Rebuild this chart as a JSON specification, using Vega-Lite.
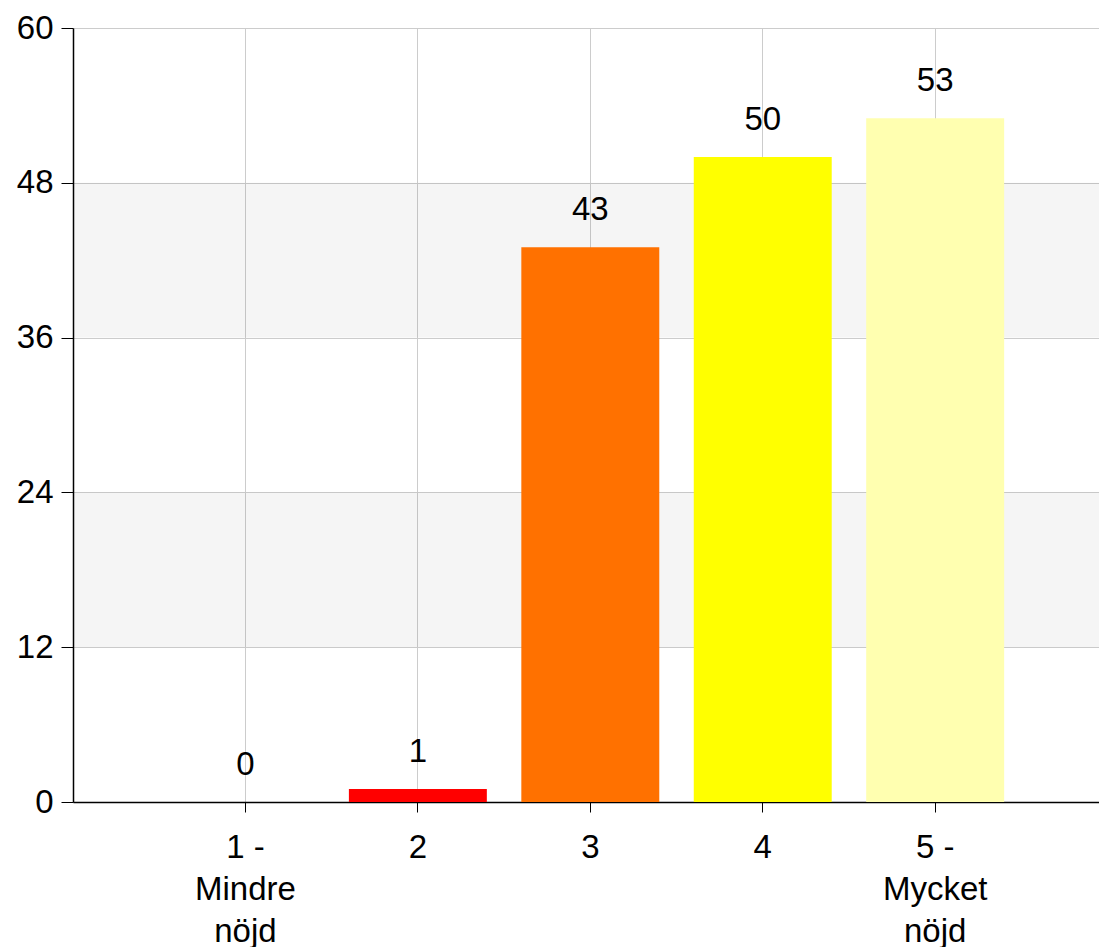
{
  "$schema": "https://vega.github.io/schema/vega-lite/v6.json",
  "autosize": {"type": "none"},
  "padding": {"left": 73, "top": 28, "right": 0, "bottom": 145},
  "width": 1026,
  "height": 774,
  "background": "white",
  "config": {
    "view": {"stroke": null},
    "font": "Liberation Sans",
    "axis": {"labelFont": "Liberation Sans", "labelColor": "black", "labelFontSize": 33, "domainColor": "black", "tickColor": "black", "gridColor": "#cccccc", "gridWidth": 1, "title": null}
  },
  "datasets": {
    "bands": [{"from": 12, "to": 24}, {"from": 36, "to": 48}],
    "answers": [
      {"answer": "1 -|Mindre|nöjd", "count": 0},
      {"answer": "2", "count": 1},
      {"answer": "3", "count": 43},
      {"answer": "4", "count": 50},
      {"answer": "5 -|Mycket|nöjd", "count": 53}
    ]
  },
  "layer": [
    {
      "data": {"name": "answers"},
      "mark": {"type": "bar", "opacity": 0},
      "encoding": {
        "x": {"field": "answer", "type": "nominal", "sort": null,
          "scale": {"paddingInner": 0.2, "paddingOuter": 0.575, "align": 0.5217},
          "axis": {"grid": true, "bandPosition": 0.5, "labelAngle": 0, "tickSize": 10, "labelPadding": 19, "labelLineHeight": 42, "labelExpr": "split(datum.label, '|')", "domainWidth": 1.5}
        },
        "y": {"field": "count", "type": "quantitative",
          "scale": {"domain": [0, 60], "nice": false},
          "axis": {"values": [0, 12, 24, 36, 48, 60], "tickSize": 12, "labelPadding": 8, "domainWidth": 1.5}
        }
      }
    },
    {
      "data": {"name": "bands"},
      "mark": {"type": "rect", "color": "black", "opacity": 0.04},
      "encoding": {
        "y": {"field": "from", "type": "quantitative"},
        "y2": {"field": "to"}
      }
    },
    {
      "data": {"name": "answers"},
      "mark": {"type": "bar"},
      "encoding": {
        "x": {"field": "answer", "type": "nominal", "sort": null},
        "y": {"field": "count", "type": "quantitative"},
        "color": {"field": "answer", "type": "nominal", "legend": null,
          "scale": {"domain": ["1 -|Mindre|nöjd", "2", "3", "4", "5 -|Mycket|nöjd"], "range": ["#cc0000", "#ff0000", "#ff7100", "#ffff00", "#ffffb0"]}
        }
      }
    },
    {
      "data": {"name": "answers"},
      "mark": {"type": "text", "baseline": "alphabetic", "dy": -27, "fontSize": 33, "color": "black", "font": "Liberation Sans"},
      "encoding": {
        "x": {"field": "answer", "type": "nominal", "sort": null},
        "y": {"field": "count", "type": "quantitative"},
        "text": {"field": "count", "type": "quantitative"}
      }
    }
  ]
}
